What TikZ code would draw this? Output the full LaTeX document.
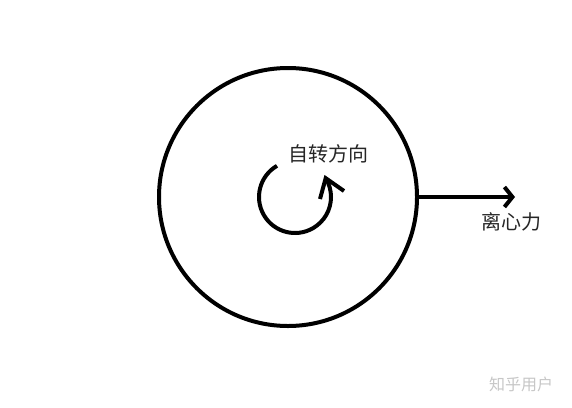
\documentclass[tikz,border=0pt]{standalone}
\usepackage{fontspec}
\newfontfamily\cjk{Noto Sans CJK SC}
\usetikzlibrary{arrows.meta,calc}
\tikzset{
  thickline/.style={line width=4pt, draw=black},
  barb/.style={-{Straight Barb[length=8pt,width=20pt,line width=4pt]}},
  cjktext/.style={font=\cjk\fontsize{20pt}{22pt}\selectfont, text=black!85, inner sep=0pt},
  wmtext/.style={font=\cjk\fontsize{16pt}{18pt}\selectfont, text=black!22, inner sep=0pt}
}
\begin{document}
\begin{tikzpicture}[x=1pt,y=-1pt]
  \useasboundingbox[fill=white] (0,0) rectangle (572,407);
  % big circle
  \node[circle, thickline, minimum size=258pt, inner sep=0pt] (disk) at (288,197) {};
  % rotation arrow
  \coordinate (rotc) at (295,197);
  \coordinate (rtip) at ($(rotc)+(31.5:36pt)$);
  \coordinate (wingl) at (320,199);
  \coordinate (wingr) at (344,191);
  \draw[thickline] ($(rotc)+(120:36pt)$) arc[start angle=120, end angle=391.5, radius=36pt];
  \draw[thickline, line join=miter] (wingl) -- (rtip) -- (wingr);
  \node[cjktext] (spin) at (328,154) {自转方向};
  % centrifugal force arrow
  \coordinate (ftip) at (515,197);
  \draw[thickline, barb] (disk.east) -- (ftip);
  \node[cjktext] (force) at (511,222) {离心力};
  % watermark
  \node[wmtext] (wm) at (521,384) {知乎用户};
\end{tikzpicture}
\end{document}
